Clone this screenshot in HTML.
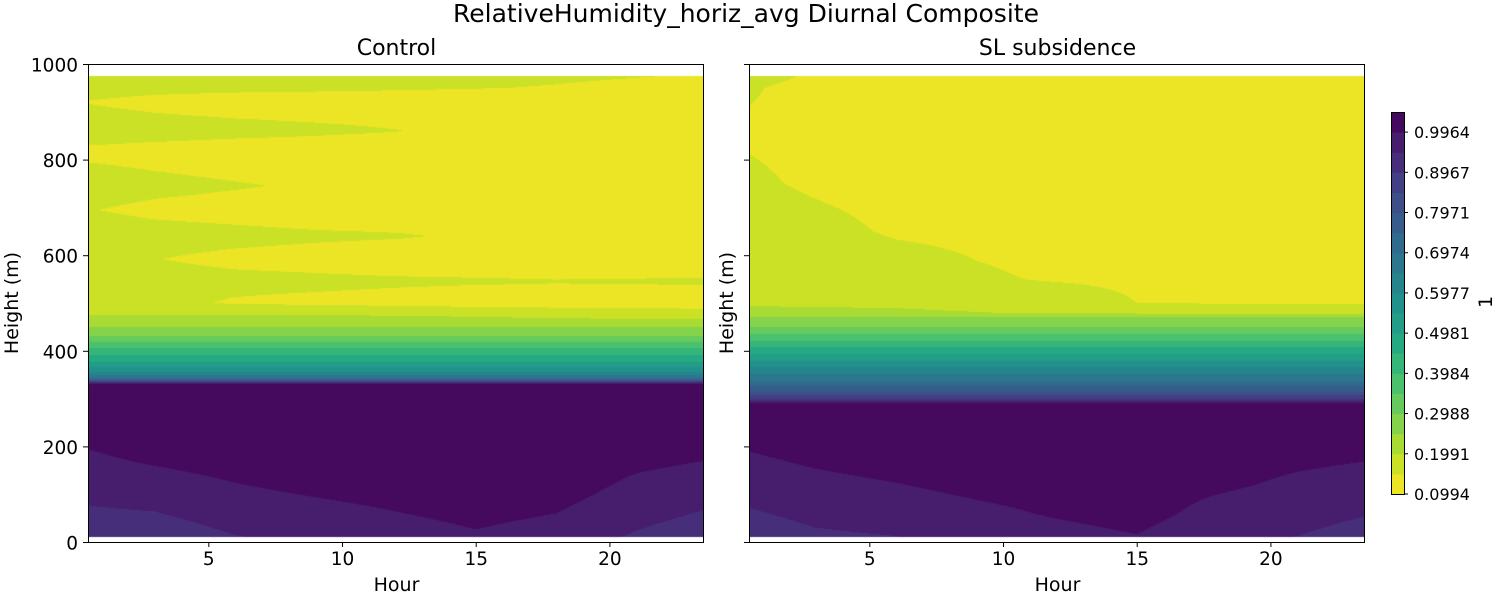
<!DOCTYPE html>
<html><head><meta charset="utf-8">
<style>
html,body{margin:0;padding:0;background:#fff;}
#root{position:relative;width:1500px;height:600px;overflow:hidden;font-family:"DejaVu Sans","Liberation Sans",sans-serif;}
canvas{position:absolute;}
svg{position:absolute;left:0;top:0;}
</style></head>
<body>
<div id="root">
<canvas id="cL" width="615" height="478" style="left:88px;top:64px"></canvas>
<canvas id="cR" width="615" height="478" style="left:749px;top:64px"></canvas>
<svg id="s" width="1500" height="600"></svg>
</div>
<script>
// ---- data ----
const hours = [0.5, 3, 6, 9, 12, 15, 18, 21, 23.5];
const levels = [0.0994,0.1492,0.1991,0.2489,0.2988,0.3486,0.3984,0.4483,0.4981,0.5479,0.5977,0.6476,0.6974,0.7473,0.7971,0.8469,0.8967,0.9466,0.9964,1.0462];
const cbTicks = [0.0994,0.1991,0.2988,0.3984,0.4981,0.5977,0.6974,0.7971,0.8967,0.9964];
const yTicks = [0,200,400,600,800,1000];
const xTicks = [5,10,15,20];
const heightsL = [10,60,120,180,240,300,330,334,338,343,349,356,366,377,390,405,418,430,450,475,500,545,592,640,695,745,816,860,920,950,975];
const valuesL = [
 [0.918,0.918,0.944,0.954,0.969,0.989,0.971,0.940,0.919],
 [0.939,0.944,0.967,0.979,0.994,1.010,0.996,0.962,0.943],
 [0.965,0.975,0.994,1.009,1.020,1.020,1.020,0.986,0.972],
 [0.990,1.007,1.020,1.020,1.020,1.020,1.020,1.011,1.001],
 [1.015,1.020,1.020,1.020,1.020,1.020,1.020,1.020,1.020],
 [1.020,1.020,1.020,1.020,1.020,1.020,1.020,1.020,1.020],
 [1.000,1.000,1.000,1.000,1.000,1.000,1.000,1.000,1.000],
 [0.900,0.900,0.900,0.900,0.900,0.900,0.900,0.900,0.900],
 [0.780,0.780,0.780,0.780,0.780,0.780,0.780,0.780,0.780],
 [0.700,0.700,0.700,0.700,0.700,0.700,0.700,0.700,0.700],
 [0.650,0.650,0.650,0.650,0.650,0.650,0.650,0.650,0.650],
 [0.600,0.600,0.600,0.600,0.600,0.600,0.600,0.600,0.600],
 [0.550,0.550,0.550,0.550,0.550,0.550,0.550,0.550,0.550],
 [0.500,0.500,0.500,0.500,0.500,0.500,0.500,0.500,0.500],
 [0.450,0.450,0.450,0.450,0.450,0.450,0.450,0.450,0.450],
 [0.400,0.400,0.400,0.400,0.400,0.400,0.400,0.400,0.400],
 [0.349,0.349,0.349,0.349,0.349,0.349,0.349,0.349,0.349],
 [0.300,0.300,0.300,0.300,0.300,0.300,0.300,0.300,0.300],
 [0.249,0.249,0.249,0.249,0.249,0.249,0.249,0.249,0.249],
 [0.200,0.200,0.200,0.200,0.195,0.190,0.180,0.175,0.170],
 [0.170,0.160,0.145,0.140,0.135,0.130,0.130,0.130,0.130],
 [0.170,0.165,0.160,0.158,0.155,0.153,0.151,0.152,0.153],
 [0.155,0.150,0.140,0.135,0.130,0.130,0.130,0.130,0.130],
 [0.170,0.165,0.160,0.155,0.152,0.145,0.140,0.140,0.140],
 [0.151,0.140,0.135,0.130,0.130,0.130,0.130,0.130,0.130],
 [0.170,0.160,0.152,0.145,0.140,0.135,0.135,0.135,0.135],
 [0.140,0.135,0.130,0.130,0.130,0.130,0.130,0.130,0.130],
 [0.170,0.165,0.160,0.155,0.150,0.143,0.140,0.140,0.140],
 [0.148,0.140,0.135,0.135,0.135,0.135,0.135,0.135,0.135],
 [0.160,0.158,0.156,0.154,0.152,0.150,0.148,0.145,0.140],
 [0.165,0.163,0.161,0.159,0.157,0.155,0.152,0.150,0.148]
];
const heightsR = [10,60,120,180,240,285,290,295,299,306,314,326,337,351,366,379,393,408,420,435,450,471,480,500,550,650,750,850,950,975];
const valuesR = [
 [0.920,0.938,0.945,0.960,0.978,0.993,0.956,0.945,0.927],
 [0.941,0.958,0.967,0.983,1.001,1.015,0.978,0.964,0.949],
 [0.967,0.982,0.994,1.010,1.020,1.020,1.005,0.986,0.975],
 [0.992,1.007,1.020,1.020,1.020,1.020,1.020,1.008,1.001],
 [1.018,1.020,1.020,1.020,1.020,1.020,1.020,1.020,1.020],
 [1.020,1.020,1.020,1.020,1.020,1.020,1.020,1.020,1.020],
 [1.000,1.000,1.000,1.000,1.000,1.000,1.000,1.000,1.000],
 [0.950,0.950,0.950,0.950,0.950,0.950,0.950,0.950,0.950],
 [0.900,0.900,0.900,0.900,0.900,0.900,0.900,0.900,0.900],
 [0.850,0.850,0.850,0.850,0.850,0.850,0.850,0.850,0.850],
 [0.800,0.800,0.800,0.800,0.800,0.800,0.800,0.800,0.800],
 [0.750,0.750,0.750,0.750,0.750,0.750,0.750,0.750,0.750],
 [0.700,0.700,0.700,0.700,0.700,0.700,0.700,0.700,0.700],
 [0.650,0.650,0.650,0.650,0.650,0.650,0.650,0.650,0.650],
 [0.600,0.600,0.600,0.600,0.600,0.600,0.600,0.600,0.600],
 [0.550,0.550,0.550,0.550,0.550,0.550,0.550,0.550,0.550],
 [0.500,0.500,0.500,0.500,0.500,0.500,0.500,0.500,0.500],
 [0.450,0.450,0.450,0.450,0.450,0.450,0.450,0.450,0.450],
 [0.400,0.400,0.400,0.400,0.400,0.400,0.400,0.400,0.400],
 [0.350,0.350,0.350,0.350,0.350,0.350,0.350,0.350,0.350],
 [0.300,0.300,0.300,0.300,0.300,0.300,0.300,0.300,0.300],
 [0.249,0.249,0.249,0.249,0.249,0.249,0.249,0.249,0.249],
 [0.205,0.205,0.205,0.200,0.195,0.185,0.180,0.178,0.178],
 [0.196,0.195,0.192,0.186,0.179,0.149,0.147,0.146,0.146],
 [0.188,0.184,0.174,0.155,0.145,0.140,0.138,0.138,0.138],
 [0.172,0.162,0.144,0.140,0.135,0.132,0.130,0.130,0.130],
 [0.156,0.143,0.135,0.130,0.130,0.130,0.130,0.130,0.130],
 [0.145,0.138,0.130,0.130,0.130,0.130,0.130,0.130,0.130],
 [0.152,0.140,0.130,0.130,0.130,0.130,0.130,0.130,0.130],
 [0.160,0.145,0.130,0.130,0.130,0.130,0.130,0.130,0.130]
];
// ---- scales ----
const PW=615, PH=478, XMIN=0.5, XMAX=23.5, YMAX=1000;
function xs(t){return (t-XMIN)/(XMAX-XMIN)*PW;}
function ys(h){return PH - h/YMAX*PH;}
const vir=[[68,1,84],[72,36,117],[65,68,135],[53,95,141],[42,120,142],[33,145,140],[34,168,132],[68,191,112],[122,209,81],[189,223,38],[253,231,37]];
function viridis(f){f=Math.max(0,Math.min(1,f));const p=f*10,i=Math.min(9,Math.floor(p)),r=p-i;
 return vir[i].map((c,k)=>Math.round(c+(vir[i+1][k]-c)*r));}
const nb=levels.length-1;
function bandColor(k){return viridis(1-(k+0.5)/nb);}
function interp(hs,vals,h,t){
 let i=0;while(i<hs.length-2&&h>hs[i+1])i++;
 let j=0;while(j<hours.length-2&&t>hours[j+1])j++;
 const fy=Math.max(0,Math.min(1,(h-hs[i])/(hs[i+1]-hs[i])));
 const fx=Math.max(0,Math.min(1,(t-hours[j])/(hours[j+1]-hours[j])));
 const a=vals[i][j]*(1-fx)+vals[i][j+1]*fx, b=vals[i+1][j]*(1-fx)+vals[i+1][j+1]*fx;
 return a*(1-fy)+b*fy;
}
function draw(id,hs,vals){
 const c=document.getElementById(id),ctx=c.getContext('2d'),img=ctx.createImageData(PW,PH);
 const cols=[];for(let k=0;k<nb;k++)cols.push(bandColor(k));
 for(let y=0;y<PH;y++){const h=(PH-y-0.5)/PH*YMAX;
  for(let x=0;x<PW;x++){const o=(y*PW+x)*4;let col=[255,255,255];
   if(h>=hs[0]&&h<=hs[hs.length-1]){const t=XMIN+(x+0.5)/PW*(XMAX-XMIN);
    const v=interp(hs,vals,h,t);let k=Math.floor((v-levels[0])/(levels[1]-levels[0]));k=Math.max(0,Math.min(nb-1,k));col=cols[k];}
   img.data[o]=col[0];img.data[o+1]=col[1];img.data[o+2]=col[2];img.data[o+3]=255;}}
 ctx.putImageData(img,0,0);
}
draw('cL',heightsL,valuesL);
draw('cR',heightsR,valuesR);
// ---- svg axes ----
const NS='http://www.w3.org/2000/svg', s=document.getElementById('s');
function el(tag,attrs,txt){const e=document.createElementNS(NS,tag);for(const k in attrs)e.setAttribute(k,attrs[k]);if(txt!==undefined)e.textContent=txt;s.appendChild(e);return e;}
let e;
e=el('text',{x:746,y:22,'font-size':25,'text-anchor':'middle',fill:'#000'},'RelativeHumidity_horiz_avg Diurnal Composite');


const panels=[{x0:88,title:'Control',labels:true,name:'control'},{x0:749,title:'SL subsidence',labels:false,name:'sl-subsidence'}];
panels.forEach(p=>{
 const Y0=64;
 e=el('rect',{x:p.x0+0.5,y:Y0+0.5,width:PW,height:PH,fill:'none',stroke:'#000','stroke-width':1});
 
 
 e=el('text',{x:p.x0+PW/2+1,y:Y0-9,'font-size':22,'text-anchor':'middle'},p.title);
 
 
 yTicks.forEach(v=>{const y=Y0+ys(v)+0.5;
  e=el('line',{x1:p.x0-5,x2:p.x0,y1:y,y2:y,stroke:'#000'});
  
  
  if(p.labels){e=el('text',{x:p.x0-10,y:y+7,'font-size':18.5,'text-anchor':'end'},String(v));
   
   }
 });
 xTicks.forEach(v=>{const x=p.x0+xs(v)+0.5;
  e=el('line',{x1:x,x2:x,y1:Y0+PH,y2:Y0+PH+5,stroke:'#000'});
  
  
  e=el('text',{x:x,y:Y0+PH+23,'font-size':18.5,'text-anchor':'middle'},String(v));
  
  
 });
 e=el('text',{x:p.x0+PW/2+1,y:591,'font-size':19,'text-anchor':'middle'},'Hour');
 
 
 const lx=p.labels?18:733;
 e=el('text',{x:lx,y:303,'font-size':19,'text-anchor':'middle',transform:'rotate(-90 '+lx+' 303)'},'Height (m)');
 
 
});
// colorbar
const CBX=1391,CBW=13,CBB=494,CBT=112;
function cy(v){return CBB-(v-levels[0])/(levels[nb]-levels[0])*(CBB-CBT);}
for(let k=0;k<nb;k++){const c=bandColor(k);
 e=el('rect',{x:CBX,y:cy(levels[k+1]),width:CBW,height:cy(levels[k])-cy(levels[k+1])+0.5,fill:'rgb('+c.join(',')+')'});
 
 
}
e=el('rect',{x:CBX+0.5,y:CBT+0.5,width:CBW,height:CBB-CBT,fill:'none',stroke:'#000'});


cbTicks.forEach(v=>{const y=cy(v);
 e=el('line',{x1:CBX+CBW,x2:CBX+CBW+4,y1:y,y2:y,stroke:'#000'});
 
 
 e=el('text',{x:1414,y:y+6,'font-size':16},v.toFixed(4));
 
 
});
e=el('text',{x:1492,y:302,'font-size':19,'text-anchor':'middle',transform:'rotate(-90 1492 302)'},'1');


</script>
</body></html>
